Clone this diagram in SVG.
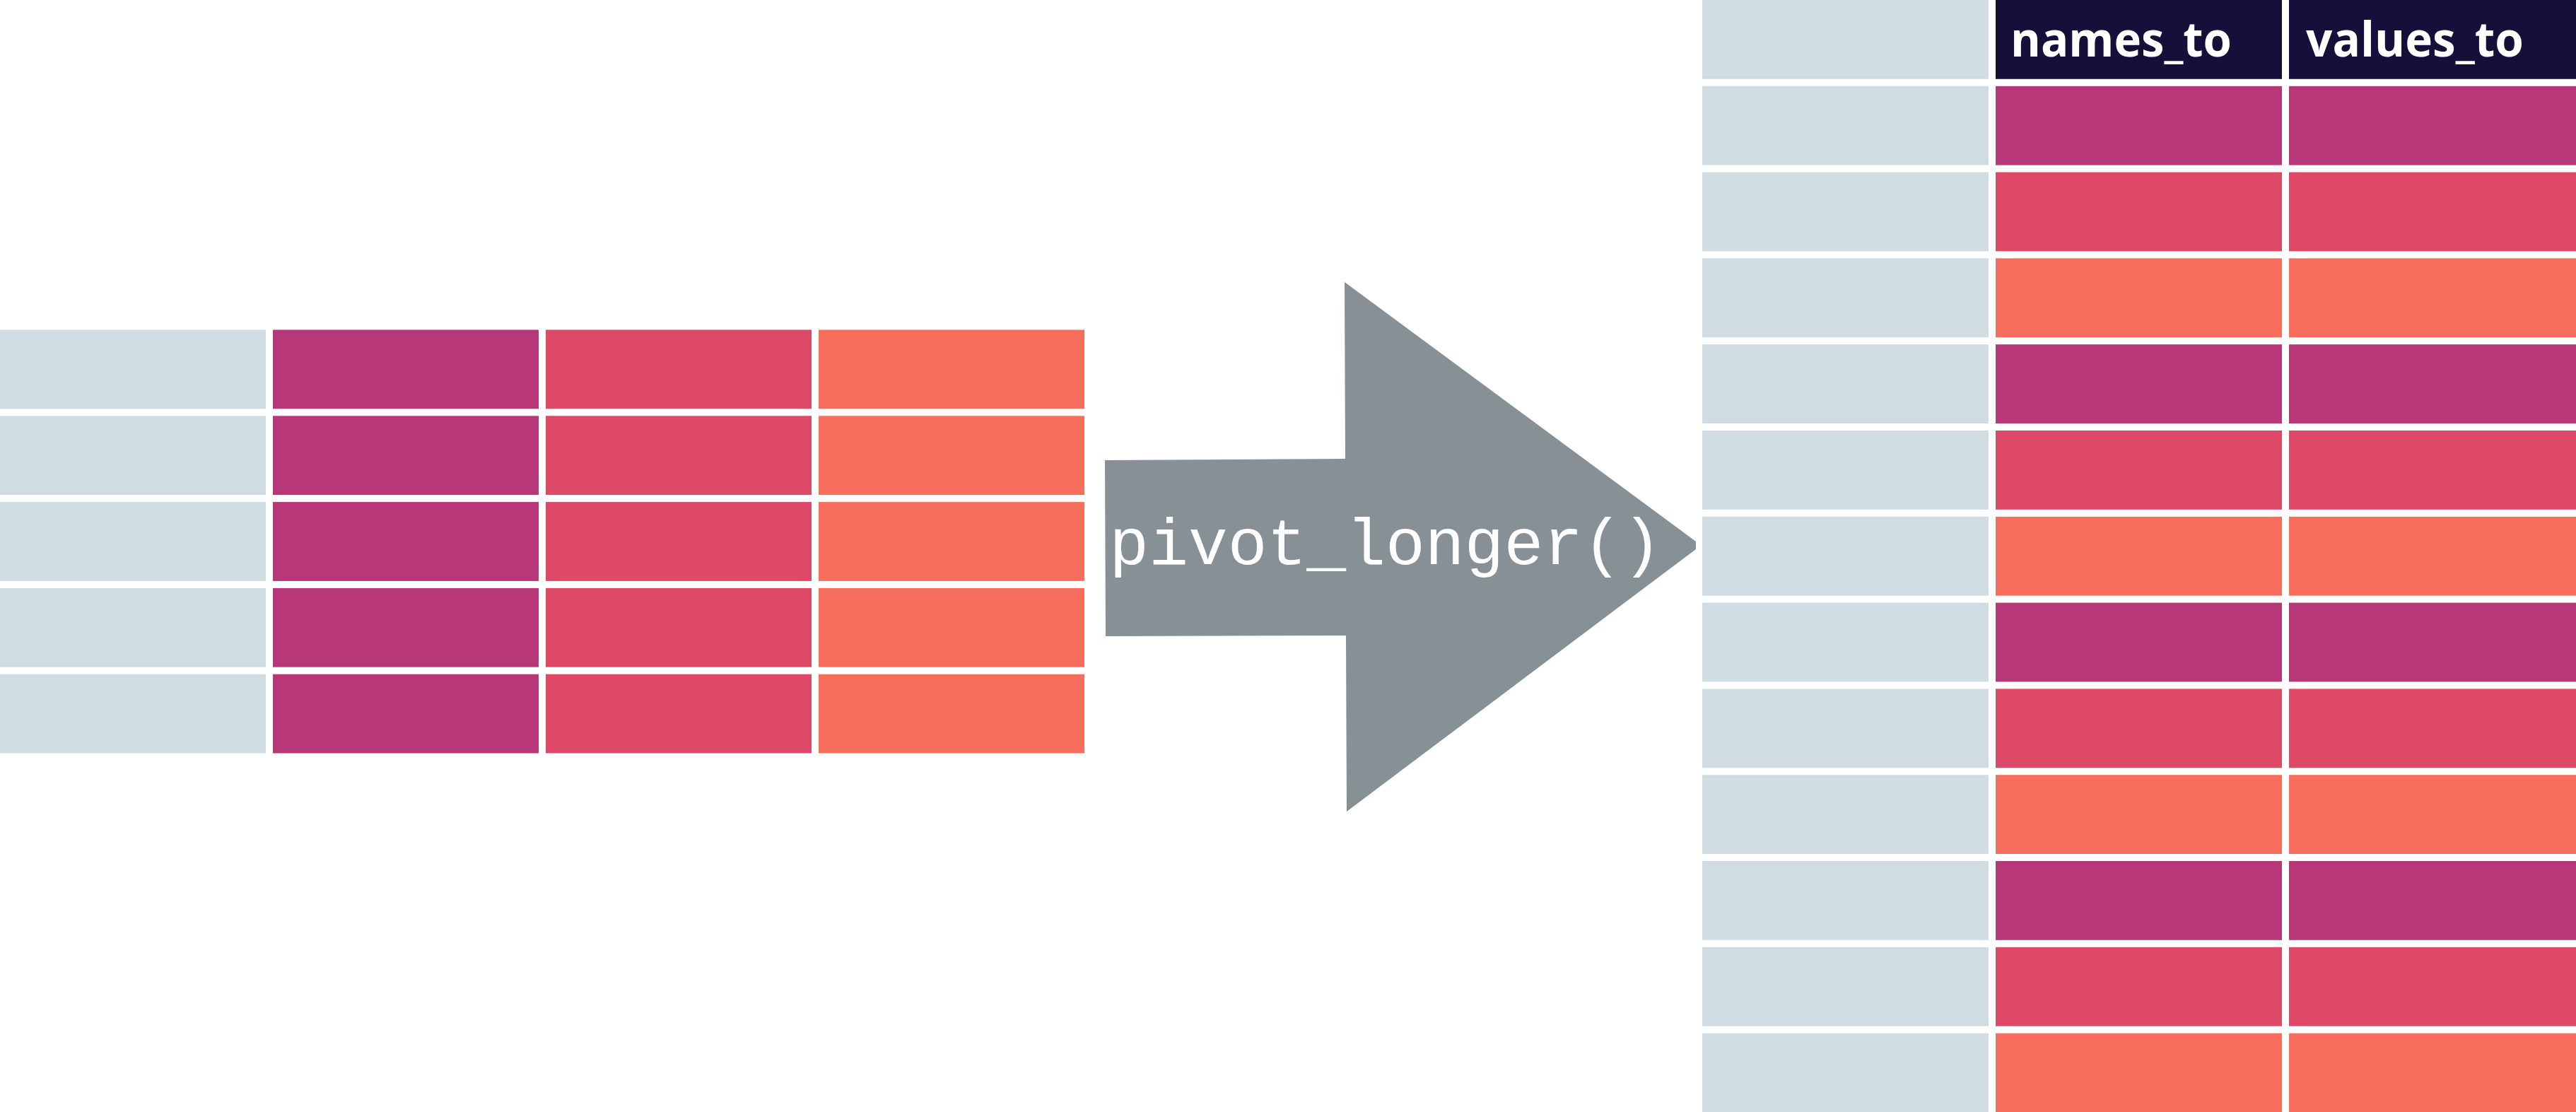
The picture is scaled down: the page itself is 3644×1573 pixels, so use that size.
<svg xmlns="http://www.w3.org/2000/svg" width="3644" height="1573" viewBox="0 0 3644 1573">
<style>
.k{fill:#cfdce1}
.m{fill:#b73779}
.r{fill:#de4968}
.o{fill:#f76f5c}
.h{fill:#160f39}
.arrow{fill:#879195}
.code{font-family:"Liberation Mono","DejaVu Sans Mono",monospace;font-size:93px;fill:#ffffff}
.head{font-family:"Open Sans","Liberation Sans",sans-serif;font-weight:bold;font-size:68px;fill:#ffffff}
</style>
<rect width="3644" height="1573" fill="#ffffff"/>
<g id="left-table">
<g id="left-row-1"><rect class="k" x="0" y="466.5" width="376" height="111.8"/><rect class="m" x="386" y="466.5" width="376" height="111.8"/><rect class="r" x="772" y="466.5" width="376" height="111.8"/><rect class="o" x="1158" y="466.5" width="376" height="111.8"/></g>
<g id="left-row-2"><rect class="k" x="0" y="588.3" width="376" height="111.8"/><rect class="m" x="386" y="588.3" width="376" height="111.8"/><rect class="r" x="772" y="588.3" width="376" height="111.8"/><rect class="o" x="1158" y="588.3" width="376" height="111.8"/></g>
<g id="left-row-3"><rect class="k" x="0" y="710.1" width="376" height="111.8"/><rect class="m" x="386" y="710.1" width="376" height="111.8"/><rect class="r" x="772" y="710.1" width="376" height="111.8"/><rect class="o" x="1158" y="710.1" width="376" height="111.8"/></g>
<g id="left-row-4"><rect class="k" x="0" y="831.9" width="376" height="111.8"/><rect class="m" x="386" y="831.9" width="376" height="111.8"/><rect class="r" x="772" y="831.9" width="376" height="111.8"/><rect class="o" x="1158" y="831.9" width="376" height="111.8"/></g>
<g id="left-row-5"><rect class="k" x="0" y="953.7" width="376" height="111.8"/><rect class="m" x="386" y="953.7" width="376" height="111.8"/><rect class="r" x="772" y="953.7" width="376" height="111.8"/><rect class="o" x="1158" y="953.7" width="376" height="111.8"/></g>
</g>
<g id="pivot-arrow">
<polygon class="arrow" points="1563,651 1903,649 1902,399 2399,766 2399,777 1905,1148 1904,899 1564,900"/>
<text class="code" x="1960" y="798" text-anchor="middle">pivot_longer()</text>
</g>
<g id="right-table">
<g id="right-header"><rect class="k" x="2408" y="0" width="405" height="111.8"/><rect class="h" x="2823" y="0" width="405" height="111.8"/><rect class="h" x="3238" y="0" width="406" height="111.8"/><text class="head" x="2844" y="80" textLength="313" lengthAdjust="spacingAndGlyphs">names_to</text><text class="head" x="3262" y="80" textLength="308" lengthAdjust="spacingAndGlyphs">values_to</text></g>
<g id="right-row-1"><rect class="k" x="2408" y="121.8" width="405" height="111.8"/><rect class="m" x="2823" y="121.8" width="405" height="111.8"/><rect class="m" x="3238" y="121.8" width="406" height="111.8"/></g>
<g id="right-row-2"><rect class="k" x="2408" y="243.6" width="405" height="111.8"/><rect class="r" x="2823" y="243.6" width="405" height="111.8"/><rect class="r" x="3238" y="243.6" width="406" height="111.8"/></g>
<g id="right-row-3"><rect class="k" x="2408" y="365.4" width="405" height="111.8"/><rect class="o" x="2823" y="365.4" width="405" height="111.8"/><rect class="o" x="3238" y="365.4" width="406" height="111.8"/></g>
<g id="right-row-4"><rect class="k" x="2408" y="487.2" width="405" height="111.8"/><rect class="m" x="2823" y="487.2" width="405" height="111.8"/><rect class="m" x="3238" y="487.2" width="406" height="111.8"/></g>
<g id="right-row-5"><rect class="k" x="2408" y="609" width="405" height="111.8"/><rect class="r" x="2823" y="609" width="405" height="111.8"/><rect class="r" x="3238" y="609" width="406" height="111.8"/></g>
<g id="right-row-6"><rect class="k" x="2408" y="730.8" width="405" height="111.8"/><rect class="o" x="2823" y="730.8" width="405" height="111.8"/><rect class="o" x="3238" y="730.8" width="406" height="111.8"/></g>
<g id="right-row-7"><rect class="k" x="2408" y="852.6" width="405" height="111.8"/><rect class="m" x="2823" y="852.6" width="405" height="111.8"/><rect class="m" x="3238" y="852.6" width="406" height="111.8"/></g>
<g id="right-row-8"><rect class="k" x="2408" y="974.4" width="405" height="111.8"/><rect class="r" x="2823" y="974.4" width="405" height="111.8"/><rect class="r" x="3238" y="974.4" width="406" height="111.8"/></g>
<g id="right-row-9"><rect class="k" x="2408" y="1096.2" width="405" height="111.8"/><rect class="o" x="2823" y="1096.2" width="405" height="111.8"/><rect class="o" x="3238" y="1096.2" width="406" height="111.8"/></g>
<g id="right-row-10"><rect class="k" x="2408" y="1218" width="405" height="111.8"/><rect class="m" x="2823" y="1218" width="405" height="111.8"/><rect class="m" x="3238" y="1218" width="406" height="111.8"/></g>
<g id="right-row-11"><rect class="k" x="2408" y="1339.8" width="405" height="111.8"/><rect class="r" x="2823" y="1339.8" width="405" height="111.8"/><rect class="r" x="3238" y="1339.8" width="406" height="111.8"/></g>
<g id="right-row-12"><rect class="k" x="2408" y="1461.6" width="405" height="111.8"/><rect class="o" x="2823" y="1461.6" width="405" height="111.8"/><rect class="o" x="3238" y="1461.6" width="406" height="111.8"/></g>
</g>
</svg>
